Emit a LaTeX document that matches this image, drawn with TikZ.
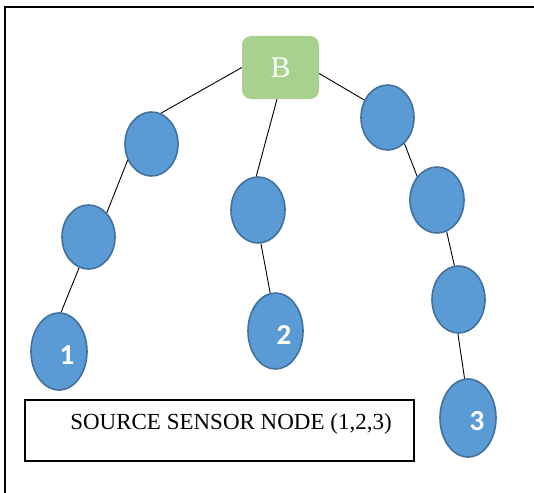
\documentclass[tikz,border=0pt]{standalone}
\usepackage{fontspec}
\setmainfont{Liberation Serif}
\newfontfamily\numfont{Carlito}
\usetikzlibrary{shapes.geometric}
\definecolor{bgreen}{HTML}{A9D18E}
\definecolor{eblue}{HTML}{5B9BD5}
\definecolor{eborder}{HTML}{41719C}
\tikzset{
  sens/.style={ellipse, draw=eborder, fill=eblue, line width=1.6pt, inner sep=0pt},
  numtxt/.style={text=white, font=\numfont\bfseries\fontsize{29}{29}\selectfont, inner sep=0pt},
  edge/.style={draw=black, line width=0.9pt},
}
\begin{document}
\begin{tikzpicture}[x=1pt,y=-1pt]
\useasboundingbox (0,0) rectangle (534,492);
\fill[white] (0,0) rectangle (534,492);
\draw[line width=2.6pt] (5,500) -- (5,7) -- (540,7);
% base station
\node[rounded corners=9pt, fill=bgreen, minimum width=77pt, minimum height=63pt, inner sep=0pt,
      text=white, font=\fontsize{30}{30}\selectfont] (B) at (280.5,67.5) {B};
% left chain
\node[sens, minimum width=53pt, minimum height=64pt] (l1) at (151.5,144) {};
\node[sens, minimum width=53pt, minimum height=64pt] (l2) at (88.5,237) {};
\node[sens, minimum width=56pt, minimum height=77pt] (n1) at (59,351.5) {};
% middle chain
\node[sens, minimum width=54pt, minimum height=66pt] (m1) at (258,210) {};
\node[sens, minimum width=55pt, minimum height=76pt] (n2) at (275.5,331) {};
% right chain
\node[sens, minimum width=53pt, minimum height=65pt] (r1) at (387.5,117.5) {};
\node[sens, minimum width=54pt, minimum height=66pt] (r2) at (437,200) {};
\node[sens, minimum width=53pt, minimum height=67pt] (r3) at (458.5,299.5) {};
\node[sens, minimum width=56pt, minimum height=78pt] (n3) at (468,418) {};
% labels
\node[numtxt] (t1) at (67,355) {1};
\node[numtxt] (t2) at (284,335) {2};
\node[numtxt] (t3) at (477,421) {3};
% connectors
\draw[edge] (B.west) -- (l1.73);
\draw[edge] ([xshift=-3.5pt]B.south) -- (m1.93);
\draw[edge] ([yshift=-6pt]B.east) -- (r1.143);
\draw[edge] (l1.214) -- (l2.53);
\draw[edge] (l2.253) -- (n1.87);
\draw[edge] (m1.275) -- (n2.98);
\draw[edge] (r1.303) -- (r2.130);
\draw[edge] (r2.287) -- (r3.97);
\draw[edge] (r3.269) -- (n3.95);
% legend box
\node[draw=black, line width=2.2pt, minimum width=389pt, minimum height=61pt, inner sep=0pt] (box) at (219.5,430.5) {};
\node[font=\fontsize{23}{23}\selectfont, inner sep=0pt] (st) at (231,423.5) {SOURCE SENSOR NODE (1,2,3)};
\end{tikzpicture}
\end{document}
